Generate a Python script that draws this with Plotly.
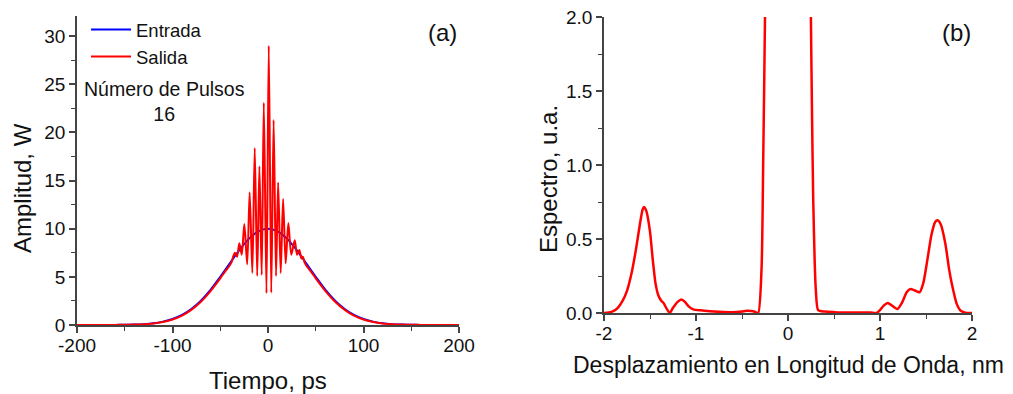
import plotly.graph_objects as go

# ---------------- data: panel (a) ----------------
t_in = [-200, -190, -180, -170, -160, -150, -140, -130, -120, -110, -100, -90, -80, -70, -60, -50, -40, -30, -20, -10,
        0, 10, 20, 30, 40, 50, 60, 70, 80, 90, 100, 110, 120, 130, 140, 150, 160, 170, 180, 190, 200]
p_in = [0.0, 0.0, 0.0, 0.0, 0.01, 0.02, 0.04, 0.09, 0.18, 0.35, 0.62, 1.05, 1.69, 2.56, 3.68, 5.00, 6.41, 7.79, 8.95, 9.73,
        10.0, 9.73, 8.95, 7.79, 6.41, 5.00, 3.68, 2.56, 1.69, 1.05, 0.62, 0.35, 0.18, 0.09, 0.04, 0.02, 0.01, 0.0, 0.0, 0.0, 0.0]

t_out = [-200, -180, -160, -150, -140, -130, -120, -110, -100, -90, -80, -70, -60, -50, -45, -40,
         -38.0, -36.5, -34.6, -32.4, -30.0, -27.5, -24.8, -21.8, -19.2, -16.4, -13.9, -11.3, -9.0, -6.6,
         -4.4, -1.6, 0.8, 3.4, 5.9, 8.4, 10.6, 13.3, 15.8, 18.5, 21.3, 24.4, 28.0, 30.4, 32.8, 35.0,
         36.5, 38.5, 40, 45, 50, 60, 70, 80, 90, 100, 110, 120, 130, 140, 150, 160, 180, 200]
p_out = [0.0, 0.0, 0.01, 0.02, 0.04, 0.08, 0.16, 0.32, 0.57, 0.98, 1.60, 2.44, 3.55, 4.85, 5.55, 6.2,
         6.55, 7.1, 7.5, 7.1, 8.5, 7.3, 10.5, 6.3, 13.8, 5.4, 18.4, 5.1, 16.5, 5.2,
         23.1, 3.3, 29.0, 3.35, 21.3, 5.1, 14.8, 5.4, 13.1, 6.4, 10.6, 7.3, 8.8, 7.3, 7.8, 6.9,
         7.1, 6.45, 6.2, 5.55, 4.85, 3.55, 2.44, 1.60, 0.98, 0.57, 0.32, 0.16, 0.08, 0.04, 0.02, 0.01, 0.0, 0.0]

x1_ticks = [-200, -100, 0, 100, 200]
x1_labels = ["-200", "-100", "0", "100", "200"]
y1_ticks = [0, 5, 10, 15, 20, 25, 30]
y1_labels = ["0", "5", "10", "15", "20", "25", "30"]

# ---------------- data: panel (b) ----------------
lam = [-2.0, -1.95, -1.9, -1.85, -1.8, -1.75, -1.7, -1.65, -1.61, -1.58, -1.565, -1.54, -1.5, -1.47, -1.44,
       -1.41, -1.38, -1.35, -1.32, -1.285, -1.25, -1.2, -1.158, -1.12, -1.08, -1.03, -0.95, -0.85, -0.75,
       -0.6, -0.5, -0.45, -0.4, -0.36, -0.324, -0.287, -0.27, -0.25, -0.23, -0.2, -0.15, -0.1, 0.0,
       0.1, 0.15, 0.2, 0.23, 0.249, 0.262, 0.274, 0.29, 0.303, 0.327, 0.4, 0.5, 0.6, 0.7, 0.8, 0.9, 0.96,
       1.0, 1.04, 1.085, 1.13, 1.19, 1.24, 1.29, 1.33, 1.38, 1.43, 1.47, 1.51, 1.56, 1.6, 1.625, 1.66,
       1.71, 1.75, 1.78, 1.835, 1.87, 1.91, 1.95, 2.0]
spec = [0.0, 0.003, 0.012, 0.035, 0.08, 0.15, 0.27, 0.44, 0.6, 0.7, 0.717, 0.69, 0.55, 0.36, 0.2,
        0.12, 0.085, 0.065, 0.03, 0.0, 0.035, 0.075, 0.092, 0.075, 0.045, 0.025, 0.018, 0.012, 0.008,
        0.005, 0.01, 0.015, 0.013, 0.008, 0.0, 0.31, 1.0, 2.0, 3.5, 6.0, 9.0, 11.0, 12.0,
        11.0, 9.0, 6.0, 3.5, 2.0, 1.3, 0.77, 0.35, 0.15, 0.02, 0.01, 0.006, 0.003, 0.003, 0.004, 0.003, 0.0,
        0.02, 0.05, 0.068, 0.05, 0.027, 0.07, 0.14, 0.162, 0.152, 0.14, 0.2, 0.34, 0.53, 0.615, 0.627, 0.6,
        0.47, 0.3, 0.2, 0.06, 0.02, 0.005, 0.0, 0.0]

x2_ticks = [-2, -1, 0, 1, 2]
x2_labels = ["-2", "-1", "0", "1", "2"]
y2_ticks = [0, 0.5, 1.0, 1.5, 2.0]
y2_labels = ["0.0", "0.5", "1.0", "1.5", "2.0"]

FONT = "Arial, 'Liberation Sans', sans-serif"
AXC = "#444444"
TXT = "#111111"

fig = go.Figure()
fig.add_trace(go.Scatter(x=t_in, y=p_in, mode="lines", name="Entrada",
                         line=dict(color="#0000FF", width=2, shape="spline", smoothing=1.0),
                         xaxis="x", yaxis="y"))
fig.add_trace(go.Scatter(x=t_out, y=p_out, mode="lines", name="Salida",
                         line=dict(color="#FF0000", width=2, shape="spline", smoothing=0.8),
                         xaxis="x", yaxis="y"))
fig.add_trace(go.Scatter(x=lam, y=spec, mode="lines", name="Espectro", showlegend=False,
                         line=dict(color="#FF0000", width=2.5, shape="spline", smoothing=0.6),
                         xaxis="x2", yaxis="y2"))

W, H = 1013, 394
def px_x(p): return p / W
def px_y(p): return (H - p) / H

axis_common = dict(showgrid=False, zeroline=False, showline=True, linecolor=AXC, linewidth=1.5,
                   ticks="outside", ticklen=6, tickwidth=1.5, tickcolor=AXC, automargin=False,
                   tickfont=dict(family=FONT, size=19, color=TXT))

def minor(d):
    return dict(dtick=d, ticklen=4, tickcolor=AXC, tickwidth=1.2, ticks="outside", showgrid=False)

fig.update_layout(
    width=W, height=H, margin=dict(l=0, r=0, t=0, b=0, autoexpand=False),
    paper_bgcolor="white", plot_bgcolor="white",
    font=dict(family=FONT, color=TXT),
    xaxis=dict(domain=[px_x(77), px_x(459)], anchor="y", range=[-200, 200], tickmode="array",
               tickvals=x1_ticks, ticktext=x1_labels, minor=minor(50), ticklabelstandoff=-4, **axis_common),
    yaxis=dict(domain=[px_y(325), px_y(16)], anchor="x", range=[0, 32.1], tickmode="array",
               tickvals=y1_ticks, ticktext=y1_labels, minor=minor(2.5), **axis_common),
    xaxis2=dict(domain=[px_x(604), px_x(972)], anchor="y2", range=[-2, 2], tickmode="array",
                tickvals=x2_ticks, ticktext=x2_labels, minor=minor(0.5), ticklabelstandoff=-4, **axis_common),
    yaxis2=dict(domain=[px_y(313), px_y(17)], anchor="x2", range=[0, 2.0], tickmode="array",
                tickvals=y2_ticks, ticktext=y2_labels, minor=minor(0.25), **axis_common),
    legend=dict(x=px_x(86), y=px_y(11), xanchor="left", yanchor="top", bgcolor="rgba(0,0,0,0)",
                font=dict(family=FONT, size=18.5, color=TXT), tracegroupgap=0, itemwidth=40),
    showlegend=True,
)

ann = [
    dict(text="Tiempo, ps", x=px_x(268), y=px_y(380)),
    dict(text="Amplitud, W", x=px_x(22), y=px_y(188), textangle=-90),
    dict(text="Desplazamiento en Longitud de Onda, nm", x=px_x(788), y=px_y(365), size=23),
    dict(text="Espectro, u.a.", x=px_x(548), y=px_y(179), textangle=-90),
    dict(text="Número de Pulsos<br>16", x=px_x(164), y=px_y(101), size=19.5),
    dict(text="(a)", x=px_x(442), y=px_y(33), size=24),
    dict(text="(b)", x=px_x(956), y=px_y(33), size=24),
]
annotations = []
for a in ann:
    size = a.pop("size", 24)
    annotations.append(dict(xref="paper", yref="paper", showarrow=False, xanchor="center", yanchor="middle",
                            align="center", font=dict(size=size, family=FONT, color=TXT), **a))
fig.update_layout(annotations=annotations)

fig.write_html("out.html")
